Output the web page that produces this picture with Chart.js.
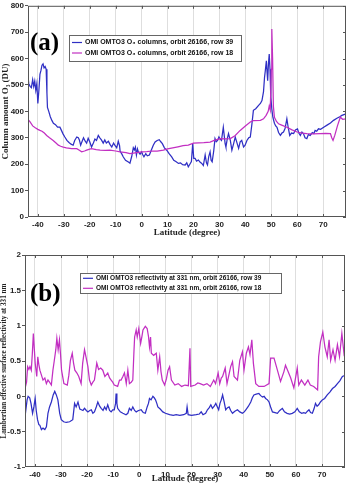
<!DOCTYPE html>
<html>
<head>
<meta charset="utf-8">
<script src="https://cdn.jsdelivr.net/npm/chart.js@4/dist/chart.umd.min.js"></script>
<style>
body { margin: 0; background: #fff; }
.panel { position: relative; width: 349px; }
#wrapA { height: 238px; }
#wrapB { height: 246px; }
</style>
</head>
<body>
<div class="panel" id="wrapA"><canvas id="chartA"></canvas></div>
<div class="panel" id="wrapB"><canvas id="chartB"></canvas></div>
<script>
// ---- data ----
var latTicks = [-40, -30, -20, -10, 0, 10, 20, 30, 40, 50, 60, 70];
var o3Ticks = [0, 100, 200, 300, 400, 500, 600, 700, 800];
var reflTicks = [-1, -0.5, 0, 0.5, 1, 1.5, 2];

// (a) ozone column, row 39
var latO3Row39 = [-44, -43.5, -43, -42.5, -42, -41.6, -41.2, -40.8, -40.4, -40, -39.6, -39.2, -38.8, -38.4, -38, -37.6, -37.2, -36.8, -36.5, -36.3,
  -35.8, -35.2, -34.6, -34, -33.2, -32.4, -31.5, -31, -30.3, -29.6, -28.8, -28, -27.2, -26.4, -25.8, -25, -24.4, -24, -23.5, -23,
  -22.4, -21.8, -21.2, -20.6, -20, -19.3, -18.6, -18, -17.4, -16.7, -16.1, -15.5, -14.8, -14.2, -13.6, -12.8, -12.2, -11.5, -10.8, -10.2,
  -9.6, -9, -8.5, -8.3, -7.6, -7.1, -6.2, -5.1, -4.5, -3.8, -3.2, -2.8, -2.4, -2, -1.6, -1.2, -0.6, 0, 0.5, 0.9,
  1.6, 2.2, 3, 3.8, 4.5, 5.2, 6, 6.8, 7.4, 8, 8.8, 9.7, 10.6, 11.6, 12.4, 13.2, 14.2, 15, 15.8, 16.8,
  17.4, 18, 18.6, 19.2, 19.7, 20.1, 20.6, 21.2, 21.9, 22.5, 23.2, 23.8, 24.5, 25, 25.4, 25.9, 26.4, 26.8, 27.2, 27.8,
  28.3, 28.8, 29.3, 29.8, 30.3, 30.8, 31.5, 32.2, 32.5, 33, 33.5, 34.2, 34.8, 35.4, 36.1, 36.8, 37.4, 38, 38.6, 39.3,
  39.9, 40.6, 41.3, 41.9, 42.5, 43.1, 44, 45.1, 45.8, 46.4, 47, 47.4, 47.7, 48.1, 48.4, 48.6, 48.9, 49.2, 49.5, 49.8,
  50.2, 50.6, 51.2, 51.7, 52.2, 52.8, 53.5, 54.1, 54.7, 55.3, 56, 56.5, 57.1, 57.8, 58.6, 59.3, 60.1, 60.6, 61.2, 61.8,
  62.4, 63, 63.7, 64.3, 65, 65.8, 66.4, 66.9, 67.5, 68.2, 69, 70.2, 71.5, 72.8, 74, 75.3, 76.4, 77.2, 78, 79];
var o3Row39 = [548, 505, 495, 490, 520, 495, 515, 480, 505, 430, 480, 540, 555, 575, 580, 565, 570, 560, 470, 415,
  400, 380, 366, 355, 350, 340, 340, 330, 315, 303, 290, 282, 276, 272, 290, 303, 300, 292, 272, 285,
  300, 288, 280, 298, 285, 265, 280, 295, 290, 309, 300, 292, 280, 292, 280, 287, 275, 265, 280, 270,
  262, 287, 270, 250, 238, 228, 215, 208, 204, 230, 262, 254, 265, 235, 258, 245, 238, 247, 235, 228,
  240, 232, 235, 255, 272, 284, 290, 293, 285, 278, 262, 253, 240, 228, 215, 210, 203, 205, 198, 197,
  205, 190, 200, 210, 278, 222, 222, 212, 216, 208, 203, 195, 235, 205, 197, 230, 247, 215, 209, 250,
  297, 285, 290, 303, 295, 290, 340, 278, 265, 295, 316, 290, 253, 275, 303, 280, 260, 285, 290, 265,
  272, 290, 300, 303, 350, 404, 410, 423, 430, 441, 475, 530, 555, 592, 545, 516, 580, 617, 560, 454,
  410, 378, 355, 345, 340, 320, 309, 318, 322, 335, 372, 340, 309, 318, 316, 330, 334, 318, 309, 322,
  316, 300, 297, 312, 309, 320, 316, 328, 325, 334, 332, 340, 348, 356, 366, 374, 380, 385, 388, 391];

// (a) ozone column, row 18
var latO3Row18 = [-44, -43, -42, -41, -40, -39.2, -38.4, -37.5, -36.6, -35.5, -34.1, -33, -32.1, -31.2, -30.2, -29, -27, -25, -24, -23.1,
  -22, -21.2, -20, -19.3, -17.5, -16, -14, -12.2, -10, -8.3, -6, -4.5, -2.5, 0, 2, 4, 6, 8.4, 10, 12,
  14, 16, 18, 20, 22, 24, 26.4, 28, 30.3, 32, 34.2, 36, 38, 40, 41.9, 43, 45.8, 47, 48, 48.8,
  49.2, 49.6, 50, 50.2, 50.5, 50.8, 51.2, 52, 52.8, 54, 56, 58, 59.9, 62, 63.7, 66, 68.9, 71, 72.8, 73.3,
  73.8, 74.5, 75.5, 76.6, 77.5, 78.9];
var o3Row18 = [372, 360, 345, 338, 332, 328, 325, 318, 309, 300, 290, 280, 272, 268, 265, 262, 259, 259, 253, 247,
  250, 253, 257, 259, 255, 253, 252, 253, 250, 247, 244, 240, 243, 247, 248, 250, 250, 253, 258, 262,
  266, 270, 272, 280, 281, 282, 284, 290, 297, 296, 297, 308, 328, 345, 360, 365, 366, 372, 385, 400,
  420, 405, 560, 712, 600, 420, 378, 362, 353, 348, 340, 330, 322, 318, 316, 315, 316, 317, 316, 300,
  290, 310, 345, 378, 370, 372];

// (b) reflectivity at 331 nm, row 39
var latReflRow39 = [-44, -43.5, -43, -42.6, -42, -41.5, -40.9, -40.4, -39.9, -39.5, -39, -38.5, -38.1, -37.5, -36.9, -36.2, -35.6, -35, -34.4, -33.7,
  -33, -32.4, -31.8, -31.2, -30.5, -29.9, -29, -28, -26.7, -25.5, -24.8, -24.2, -23.5, -22.8, -22.2, -21.6, -21, -20.3, -19.7, -19,
  -18.4, -17.8, -17.2, -16.5, -15.9, -15.2, -14.6, -13.9, -13.3, -12.7, -12.1, -11.4, -10.8, -10.2, -9.6, -9.1, -8.9, -8.6, -8.3, -7.3,
  -6.3, -5.1, -4.4, -3.8, -3.1, -2.5, -1.8, -1.2, -0.3, 0.7, 1.5, 2.3, 3, 3.5, 3.9, 4.5, 5.2, 5.7, 6.2, 6.7,
  7.1, 8, 9, 10, 11.6, 13, 14.1, 15.5, 17, 18, 18.3, 18.7, 20, 21.8, 23, 23.7, 24.4, 25.4, 26.1, 26.8,
  27.4, 28, 28.7, 29.3, 29.9, 30.4, 30.9, 31.4, 31.9, 32.5, 33.1, 33.8, 34.4, 35, 35.7, 36.6, 37.6, 38.5, 39.5, 40.2,
  40.8, 41.8, 42.7, 43.3, 43.9, 44.8, 45.8, 46.5, 47.2, 47.8, 48.4, 49.1, 49.7, 50.3, 51, 52, 52.9, 53.8, 54.8, 55.6,
  56.6, 57.6, 58.6, 59.6, 60.5, 61.3, 62.2, 63, 63.7, 64.4, 65, 65.6, 66.3, 66.9, 67.5, 68.1, 68.7, 69.4, 70.1, 71,
  72, 73, 74, 75, 75.9, 76.8, 77.8, 79];
var reflRow39 = [-0.35, -0.2, -0.05, 0.0, -0.02, -0.1, -0.24, -0.15, -0.03, -0.2, -0.33, -0.4, -0.41, -0.47, -0.45, -0.47, -0.43, -0.24, -0.15, -0.08,
  0.02, 0.07, 0.02, -0.05, -0.24, -0.33, -0.36, -0.37, -0.36, -0.33, -0.1, -0.15, -0.08, -0.18, -0.19, -0.2, -0.17, -0.2, -0.22, -0.2,
  -0.19, -0.24, -0.22, -0.15, -0.08, -0.14, -0.17, -0.2, -0.15, -0.19, -0.12, -0.2, -0.22, -0.19, -0.19, -0.1, 0.04, -0.1, -0.17, -0.22,
  -0.24, -0.26, -0.24, -0.17, -0.2, -0.15, -0.2, -0.22, -0.2, -0.19, -0.23, -0.24, -0.15, -0.1, -0.03, -0.05, 0.0, -0.02, -0.05, -0.1,
  -0.15, -0.18, -0.22, -0.24, -0.26, -0.27, -0.26, -0.27, -0.26, -0.24, -0.15, -0.26, -0.27, -0.26, -0.25, -0.22, -0.26, -0.24, -0.19, -0.16,
  -0.12, -0.17, -0.14, -0.1, -0.15, -0.19, -0.1, -0.05, 0.02, -0.08, -0.19, -0.16, -0.15, -0.2, -0.24, -0.21, -0.19, -0.22, -0.24, -0.22,
  -0.19, -0.14, -0.08, -0.02, 0.02, 0.03, 0.04, 0.01, -0.01, 0.0, -0.03, -0.05, -0.08, -0.15, -0.22, -0.23, -0.24, -0.2, -0.17, -0.22,
  -0.24, -0.25, -0.24, -0.22, -0.17, -0.22, -0.24, -0.23, -0.24, -0.21, -0.19, -0.23, -0.24, -0.18, -0.1, -0.14, -0.12, -0.08, -0.05, -0.03,
  0.02, 0.06, 0.11, 0.14, 0.18, 0.22, 0.28, 0.3];

// (b) reflectivity at 331 nm, row 18
var latReflRow18 = [-44, -43.6, -43.2, -42.8, -42.3, -41.9, -41.4, -41, -40.6, -40.2, -39.9, -39.3, -38.9, -38.5, -38.1, -37.5, -36.9, -36.2, -35.6, -35,
  -34.4, -33.7, -33.1, -32.6, -32, -31.6, -31.1, -30.6, -30.2, -29.8, -28.9, -27.6, -27, -26.4, -25.7, -25.2, -24.7, -23.9, -23.2, -22.3,
  -21.7, -21, -20.4, -19.7, -19.1, -18.4, -17.8, -17.2, -16.3, -15.6, -14.8, -14, -13.2, -12.1, -11.4, -10.8, -10.2, -9.6, -8.3, -7.6,
  -7, -6.3, -5.7, -5, -4.4, -3.8, -3.1, -2.5, -2.1, -1.8, -1.2, -0.8, -0.2, 0.5, 1, 1.4, 2.3, 3, 3.5, 3.9,
  4.3, 4.6, 5.5, 6.5, 7.1, 7.8, 8.3, 8.8, 9.7, 10.4, 11, 11.6, 12.3, 13.6, 14.9, 16.2, 17.5, 18.8, 19.4, 19.7,
  21.4, 22.4, 23.3, 24.6, 25.9, 27.2, 28.5, 29.2, 30.2, 30.8, 31.4, 31.9, 32.9, 33.6, 35, 35.7, 36.3, 37.6, 38.5, 39.5,
  40.1, 41, 41.8, 42.4, 43.1, 43.7, 44.6, 45.8, 47.8, 49.7, 50.3, 51.6, 52.9, 54.1, 55.4, 56, 56.8, 58, 59.2, 60.5,
  61.1, 62.1, 63.4, 64.6, 65.5, 66.8, 68.3, 68.7, 69.4, 70.3, 71.1, 72, 72.7, 73.3, 74.2, 75, 75.9, 76.7, 77.6, 78.4, 79];
var reflRow18 = [0.28, 0.14, 0.2, 0.42, 0.38, 0.42, 0.37, 0.6, 0.89, 0.65, 0.47, 0.28, 0.56, 0.45, 0.37, 0.3, 0.23, 0.26, 0.18, 0.23,
  0.2, 0.16, 0.37, 0.5, 0.66, 0.82, 0.66, 0.8, 0.6, 0.37, 0.18, 0.16, 0.3, 0.51, 0.61, 0.47, 0.37, 0.33, 0.28, 0.18,
  0.47, 0.66, 0.55, 0.42, 0.23, 0.16, 0.2, 0.23, 0.47, 0.38, 0.4, 0.37, 0.28, 0.33, 0.26, 0.23, 0.2, 0.16, 0.14, 0.23,
  0.23, 0.28, 0.33, 0.18, 0.37, 0.18, 0.2, 0.23, 0.6, 0.84, 0.94, 0.84, 0.96, 0.75, 0.85, 0.94, 0.99, 0.96, 0.85, 0.7,
  0.84, 0.61, 0.58, 0.61, 0.37, 0.56, 0.35, 0.23, 0.16, 0.25, 0.37, 0.42, 0.23, 0.16, 0.18, 0.14, 0.16, 0.15, 0.68, 0.14,
  0.16, 0.19, 0.18, 0.16, 0.18, 0.14, 0.23, 0.18, 0.33, 0.18, 0.26, 0.28, 0.4, 0.18, 0.42, 0.49, 0.28, 0.23, 0.51, 0.63,
  0.37, 0.61, 0.7, 0.59, 0.8, 0.47, 0.18, 0.14, 0.14, 0.18, 0.54, 0.54, 0.37, 0.21, 0.35, 0.44, 0.37, 0.26, 0.12, 0.4,
  0.16, 0.23, 0.16, 0.23, 0.16, 0.14, 0.09, 0.56, 0.77, 0.91, 0.7, 0.56, 0.8, 0.51, 0.66, 0.51, 0.73, 0.56, 0.89, 0.61, 0.7];

var blue = '#2f2fc4';
var magenta = '#c22fc2';
var tickFont = { family: "'Liberation Sans', Arial, sans-serif", size: 8, weight: 'bold' };
var serif = "'Liberation Serif', 'Times New Roman', serif";

function pairs(xs, ys) {
    return xs.map(function (x, i) { return { x: x, y: ys[i] }; });
}

// frame, inner ticks, panel letter and boxed legend
var panelDeco = {
    id: 'panelDeco',
    afterDraw: function (chart, args, o) {
        var ctx = chart.ctx, a = chart.chartArea;
        var xs = chart.scales.x, ys = chart.scales.y;
        ctx.save();
        ctx.strokeStyle = '#555';
        ctx.lineWidth = 1;
        ctx.strokeRect(a.left + 0.5, a.top + 0.5, a.right - a.left - 1, a.bottom - a.top - 1);
        ctx.beginPath();
        ys.ticks.forEach(function (t) {
            var py = Math.round(ys.getPixelForValue(t.value)) + 0.5;
            ctx.moveTo(a.right, py); ctx.lineTo(a.right - 3, py);
        });
        xs.ticks.forEach(function (t) {
            var px = Math.round(xs.getPixelForValue(t.value)) + 0.5;
            ctx.moveTo(px, a.top); ctx.lineTo(px, a.top + 3);
            ctx.moveTo(px, a.bottom); ctx.lineTo(px, a.bottom - 3);
        });
        ctx.stroke();

        // panel letter
        ctx.fillStyle = '#000';
        ctx.font = 'bold 25px ' + serif;
        ctx.textBaseline = 'alphabetic';
        ctx.fillText(o.letter, o.letterX, o.letterY);

        // legend box
        var L = o.legend;
        ctx.fillStyle = '#fff';
        ctx.fillRect(L.x, L.y, L.w, L.h);
        ctx.strokeStyle = '#666';
        ctx.strokeRect(L.x + 0.5, L.y + 0.5, L.w, L.h);
        ctx.font = 'bold ' + L.size + "px 'Liberation Sans', Arial, sans-serif";
        ctx.textBaseline = 'middle';
        chart.data.datasets.forEach(function (ds, i) {
            var cy = L.y + L.rowTop + i * L.rowGap;
            ctx.strokeStyle = ds.borderColor;
            ctx.lineWidth = 1.2;
            ctx.beginPath();
            ctx.moveTo(L.x + 3, cy); ctx.lineTo(L.x + 3 + L.line, cy);
            ctx.stroke();
            ctx.fillStyle = '#111';
            ctx.fillText(ds.label, L.x + L.line + 6, cy);
        });
        ctx.restore();
    }
};

function makeChart(id, cfg) {
    return new Chart(document.getElementById(id), {
        type: 'line',
        data: {
            datasets: [{
                label: cfg.labels[0],
                data: cfg.series[0],
                borderColor: blue,
                order: 1
            }, {
                label: cfg.labels[1],
                data: cfg.series[1],
                borderColor: magenta,
                order: 0
            }]
        },
        options: {
            responsive: true,
            maintainAspectRatio: false,
            animation: false,
            layout: { padding: cfg.padding },
            elements: {
                point: { radius: 0 },
                line: { borderWidth: 1.25, tension: 0 }
            },
            plugins: {
                legend: { display: false },
                tooltip: { enabled: false },
                panelDeco: cfg.deco
            },
            scales: {
                x: {
                    type: 'linear',
                    min: -43.8,
                    max: 78.8,
                    afterBuildTicks: function (s) { s.ticks = latTicks.map(function (v) { return { value: v }; }); },
                    afterFit: function (s) { s.height = cfg.xHeight; },
                    grid: { color: '#dedede', drawTicks: false },
                    border: { display: false },
                    ticks: { font: tickFont, color: '#222', padding: 3, maxRotation: 0 },
                    title: {
                        display: true,
                        text: 'Latitude (degree)',
                        color: '#222',
                        font: { family: serif, size: 9, weight: 'bold' },
                        padding: 0
                    }
                },
                y: {
                    min: cfg.yTicks[0],
                    max: cfg.yTicks[cfg.yTicks.length - 1],
                    afterBuildTicks: function (s) { s.ticks = cfg.yTicks.map(function (v) { return { value: v }; }); },
                    afterFit: function (s) { s.width = cfg.yWidth; },
                    grid: { drawOnChartArea: false, tickLength: 3, color: '#555' },
                    border: { display: false },
                    ticks: {
                        font: tickFont, color: '#222', padding: 1,
                        callback: function (v) { return String(v); }
                    },
                    title: {
                        display: true,
                        text: cfg.yTitle,
                        color: '#222',
                        font: { family: serif, size: cfg.yTitleSize, weight: 'bold' },
                        padding: 0
                    }
                }
            }
        },
        plugins: [panelDeco]
    });
}

makeChart('chartA', {
    labels: ['OMI OMTO3 O\u2083 columns, orbit 26166, row 39', 'OMI OMTO3 O\u2083 columns, orbit 26166, row 18'],
    series: [pairs(latO3Row39, o3Row39), pairs(latO3Row18, o3Row18)],
    yTicks: o3Ticks,
    yTitle: 'Column amount O\u2083 (DU)',
    yTitleSize: 9,
    yWidth: 28,
    xHeight: 21,
    padding: { top: 5, right: 3, left: 0, bottom: 0 },
    deco: {
        letter: '(a)', letterX: 30, letterY: 50,
        legend: { x: 69, y: 35, w: 172, h: 26, rowTop: 7.5, rowGap: 10.5, line: 10, size: 7 }
    }
});

makeChart('chartB', {
    labels: ['OMI OMTO3 reflectivity at 331 nm, orbit 26166, row 39', 'OMI OMTO3 reflectivity at 331 nm, orbit 26166, row 18'],
    series: [pairs(latReflRow39, reflRow39), pairs(latReflRow18, reflRow18)],
    yTicks: reflTicks,
    yTitle: 'Lambertian effective surface reflectivity at 331 nm',
    yTitleSize: 7.2,
    yWidth: 25,
    xHeight: 17,
    padding: { top: 17, right: 4, left: 0, bottom: 0 },
    deco: {
        letter: '(b)', letterX: 30, letterY: 63,
        legend: { x: 80, y: 35, w: 201, h: 20, rowTop: 5.3, rowGap: 10, line: 10, size: 6.5 }
    }
});
</script>
</body>
</html>
